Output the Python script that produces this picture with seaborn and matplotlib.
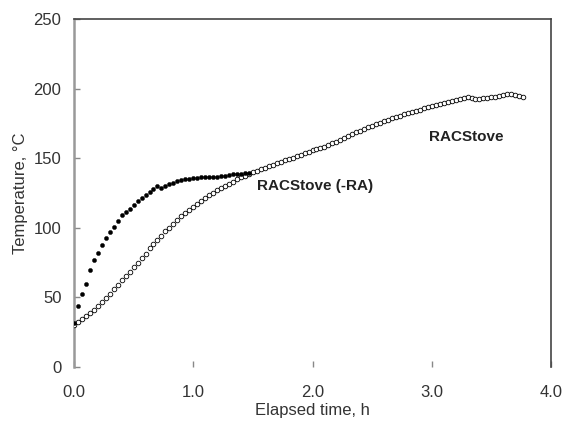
import matplotlib
matplotlib.use("Agg")
import matplotlib.pyplot as plt
import numpy as np
import pandas as pd
import seaborn as sns

# RACStove: elapsed minutes and temperature (open circles)
open_minutes = [0, 2, 4, 6, 8, 10, 12, 14, 16, 18, 20, 22, 24, 26, 28, 30, 32, 34, 36, 38,
                40, 42, 44, 46, 48, 50, 52, 54, 56, 58, 60, 62, 64, 66, 68, 70, 72, 74, 76, 78,
                80, 82, 84, 86, 88, 90, 92, 94, 96, 98, 100, 102, 104, 106, 108, 110, 112, 114, 116, 118,
                120, 122, 124, 126, 128, 130, 132, 134, 136, 138, 140, 142, 144, 146, 148, 150, 152, 154, 156, 158,
                160, 162, 164, 166, 168, 170, 172, 174, 176, 178, 180, 182, 184, 186, 188, 190, 192, 194, 196, 198,
                200, 202, 204, 206, 208, 210, 212, 214, 216, 218, 220, 222, 224, 226]
open_temp = [30.0, 32.3, 34.5, 36.5, 38.5, 41.3, 44.0, 46.8, 49.8, 52.8, 55.9, 59.1, 62.3, 65.5, 68.7, 71.8, 75.1, 78.3, 81.5, 85.6,
             88.6, 91.6, 94.5, 97.5, 100.2, 103.2, 105.9, 108.3, 110.6, 113.0, 115.3, 117.4, 119.6, 121.6, 123.6, 125.4, 127.0, 128.7, 130.3, 131.9,
             133.4, 134.9, 136.4, 137.6, 138.8, 140.0, 141.1, 142.3, 143.4, 144.5, 145.6, 146.7, 147.8, 148.9, 149.7, 150.7, 151.6, 152.5, 153.7, 154.8,
             156.0, 156.8, 157.7, 158.5, 159.7, 160.8, 162.0, 163.1, 164.7, 166.3, 167.6, 168.8, 170.0, 171.2, 172.3, 173.5, 174.6, 175.7, 176.8, 177.9,
             179.0, 180.0, 180.9, 181.8, 182.6, 183.5, 184.4, 185.2, 186.0, 186.8, 187.5, 188.3, 189.1, 189.9, 190.6, 191.4, 192.1, 192.8, 193.5, 193.9,
             193.4, 193.0, 193.1, 193.3, 193.7, 194.0, 194.4, 195.2, 195.9, 196.5, 196.3, 196.0, 195.2, 194.4]

# RACStove (-RA): filled circles
filled_minutes = [0, 2, 4, 6, 8, 10, 12, 14, 16, 18, 20, 22, 24, 26, 28, 30, 32, 34, 36, 38,
                  40, 42, 44, 46, 48, 50, 52, 54, 56, 58, 60, 62, 64, 66, 68, 70, 72, 74, 76, 78,
                  80, 82, 84, 86, 88]
filled_temp = [32.0, 44.0, 52.5, 60.0, 69.5, 77.0, 82.0, 88.0, 93.0, 97.3, 101.0, 105.0, 109.0, 111.5, 114.0, 116.7, 119.5, 121.7, 123.7, 125.8,
               128.0, 130.2, 128.6, 130.5, 131.8, 132.7, 133.5, 134.2, 134.9, 135.6, 135.9, 136.2, 136.4, 136.6, 136.7, 136.8, 137.0, 137.3, 137.7, 138.1,
               138.5, 138.9, 139.2, 139.4, 139.6]

xticks = [0.0, 1.0, 2.0, 3.0, 4.0]
yticks = [0, 50, 100, 150, 200, 250]

df_open = pd.DataFrame({"hours": np.array(open_minutes) / 60.0, "temp": open_temp})
df_filled = pd.DataFrame({"hours": np.array(filled_minutes) / 60.0, "temp": filled_temp})

sns.set_style("white")
plt.rcParams["font.family"] = ["Liberation Sans", "DejaVu Sans"]

fig = plt.figure(figsize=(5.67, 4.30), dpi=100)
ax = fig.add_axes([0.1305, 0.1465, 0.8413, 0.8082])

sns.scatterplot(data=df_open, x="hours", y="temp", ax=ax, marker="o", s=11,
                facecolor="white", edgecolor="black", linewidth=0.6, zorder=3)
sns.scatterplot(data=df_filled, x="hours", y="temp", ax=ax, marker="o", s=9,
                color="black", edgecolor="black", linewidth=0.3, zorder=4)

ax.set_xlim(0, 4.0)
ax.set_ylim(0, 250)
ax.set_xticks(xticks)
ax.set_xticklabels(["%.1f" % v for v in xticks])
ax.set_yticks(yticks)
ax.tick_params(axis="both", direction="in", length=4, width=1, color="#888888",
               labelsize=12, labelcolor="#333333", bottom=True, left=True)
ax.tick_params(axis="x", pad=13)
ax.tick_params(axis="y", pad=9)
ax.set_xlabel("Elapsed time, h", fontsize=12, color="#333333", labelpad=2)
ax.set_ylabel("Temperature, °C", fontsize=12, color="#333333", labelpad=4)

ax.spines["bottom"].set_visible(False)
ax.spines["left"].set_color("#999999")
ax.spines["left"].set_linewidth(1.8)
ax.spines["top"].set_color("#444444")
ax.spines["top"].set_linewidth(1.2)
ax.spines["right"].set_color("#444444")
ax.spines["right"].set_linewidth(1.2)

ax.text(1.535, 130, "RACStove (-RA)", fontsize=11, fontweight="bold", color="#222222",
        va="center", ha="left")
ax.text(2.977, 165.5, "RACStove", fontsize=11, fontweight="bold", color="#222222",
        va="center", ha="left")

fig.savefig("out.png", dpi=100)
